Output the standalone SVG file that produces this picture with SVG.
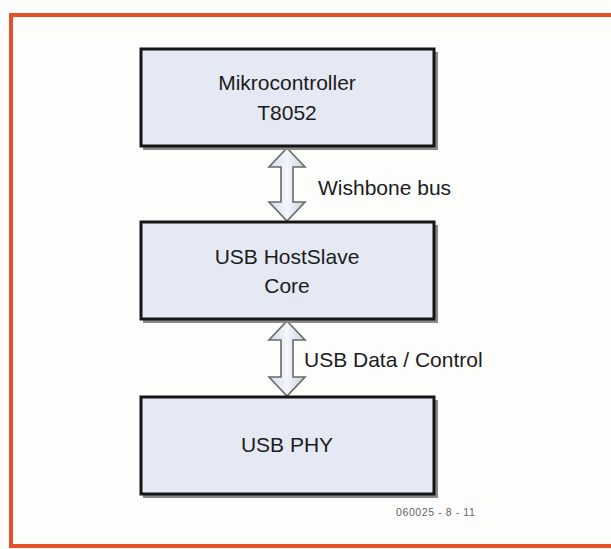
<svg xmlns="http://www.w3.org/2000/svg" width="611" height="549" viewBox="0 0 611 549">
  <style>
    .frame { fill: none; stroke: #e4512b; stroke-width: 4; }
    .shadow { fill: #8a8a8a; }
    .box { fill: #e5e9f4; stroke: #151515; stroke-width: 3; }
    .label { font-family: "Liberation Sans", Arial, sans-serif; font-size: 21px; fill: #1c1c1c; }
    .mid { text-anchor: middle; }
    .bus { fill: url(#busFill); stroke: #6a6a6a; stroke-width: 1.6; stroke-linejoin: miter; }
    .code { font-family: "Liberation Sans", Arial, sans-serif; font-size: 10.5px; letter-spacing: 0.6px; fill: #666; }
  </style>
  <defs>
    <linearGradient id="busFill" x1="0" y1="0" x2="1" y2="0">
      <stop offset="0" stop-color="#d3dbe8"/>
      <stop offset="0.5" stop-color="#f4f6fa"/>
      <stop offset="1" stop-color="#c9d2e2"/>
    </linearGradient>
  </defs>

  <rect width="611" height="549" fill="#fdfdfc"/>
  <rect class="frame" x="11" y="15" width="640" height="531"/>

  <!-- bus connectors: double-headed block arrows -->
  <g id="connectors">
    <path class="bus" d="M287,148 L305,167 L293,167 L293,202 L305,202 L287,221 L269,202 L281,202 L281,167 L269,167 Z"/>
    <path class="bus" d="M287,321 L305,340 L293,340 L293,377 L305,377 L287,396 L269,377 L281,377 L281,340 L269,340 Z"/>
    <text class="label" x="318" y="195">Wishbone bus</text>
    <text class="label" x="304" y="367">USB Data / Control</text>
  </g>

  <g id="mcu">
    <rect class="shadow" x="143" y="52" width="295" height="98"/>
    <rect class="box" x="141" y="49" width="293" height="97"/>
    <text class="label mid" x="287" y="90">Mikrocontroller</text>
    <text class="label mid" x="287" y="120">T8052</text>
  </g>

  <g id="hostslave">
    <rect class="shadow" x="143" y="225" width="295" height="98"/>
    <rect class="box" x="141" y="222" width="293" height="97"/>
    <text class="label mid" x="287" y="264">USB HostSlave</text>
    <text class="label mid" x="287" y="293">Core</text>
  </g>

  <g id="phy">
    <rect class="shadow" x="143" y="400" width="295" height="98"/>
    <rect class="box" x="141" y="397" width="293" height="97"/>
    <text class="label mid" x="287" y="452">USB PHY</text>
  </g>

  <text class="code" x="396" y="516">060025 - 8 - 11</text>
</svg>
